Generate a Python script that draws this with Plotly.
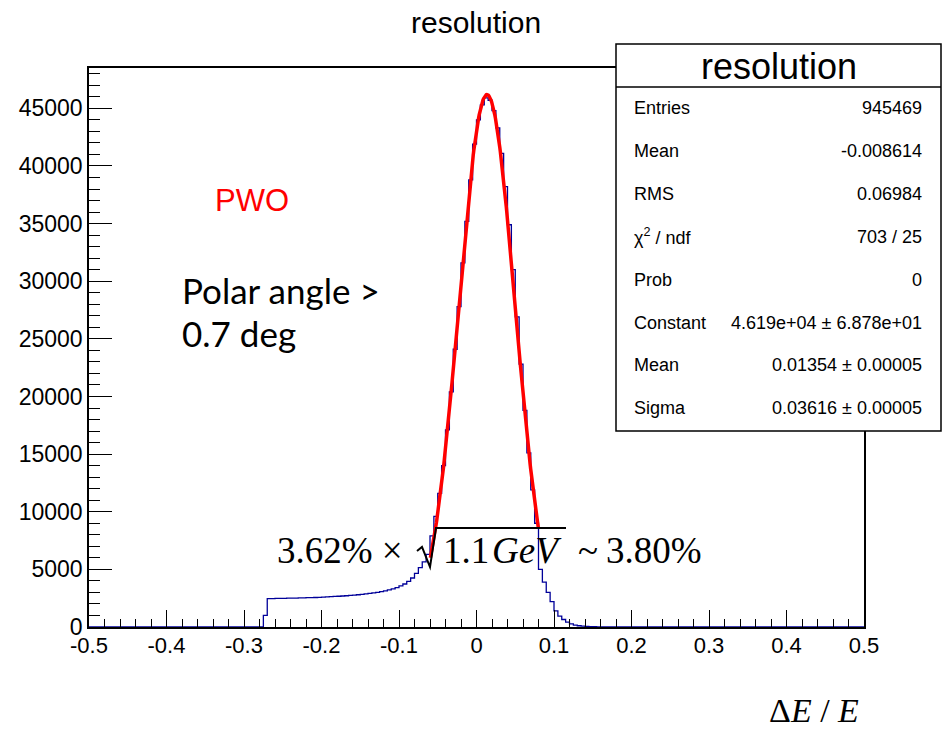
import math
import plotly.graph_objects as go

# ---------------- data ----------------
bin_width = 0.005
hist_lo, hist_hi = -0.5, 0.5
first_filled_bin = -0.275   # left edge of first non-empty bin
counts = [
    1000, 2470, 2470, 2480, 2480, 2490, 2500, 2500, 2510, 2520,      # -0.275 ...
    2530, 2540, 2550, 2560, 2570, 2590, 2610, 2630, 2650, 2670,      # -0.225 ...
    2690, 2710, 2740, 2770, 2800, 2830, 2870, 2910, 2960, 3010,      # -0.175 ...
    3070, 3140, 3220, 3310, 3420, 3560, 3730, 3950, 4250, 4650,      # -0.125 ...
    5150, 5650, 6300, 7900, 9600, 11600, 14000, 17100, 20400, 24100, # -0.075 ...
    27800, 31600, 35200, 38800, 41900, 44000, 45300, 45900, 45700, 44800,  # -0.025 ...
    43300, 41100, 38200, 34900, 31000, 26900, 22800, 18800, 15100, 11900,  # 0.025 ...
    9000, 5000, 3900, 3000, 2200, 1400, 950, 650, 430, 270,          # 0.075 ...
    170, 110, 70, 45, 30, 20, 14, 10, 7, 5,                          # 0.125 ...
    4, 3, 2, 2, 1,                                                   # 0.175 ...
]

# Gaussian fit (parameters from the stats box) and fit range
fit_constant = 4.619e4
fit_mean = 0.01354
fit_sigma = 0.03616
fit_range = (-0.0595, 0.0797)

x_tickvals = [-0.5, -0.4, -0.3, -0.2, -0.1, 0, 0.1, 0.2, 0.3, 0.4, 0.5]
x_ticktext = ["-0.5", "-0.4", "-0.3", "-0.2", "-0.1", "0", "0.1", "0.2", "0.3", "0.4", "0.5"]
y_tickvals = [0, 5000, 10000, 15000, 20000, 25000, 30000, 35000, 40000, 45000]
y_ticktext = [str(v) for v in y_tickvals]

stats_labels = ["Entries", "Mean", "RMS", "χ<sup>2</sup> / ndf", "Prob",
                "Constant", "Mean", "Sigma"]
stats_values = ["945469", "-0.008614", "0.06984", "703 / 25", "0",
                "4.619e+04 ± 6.878e+01", "0.01354 ± 0.00005", "0.03616 ± 0.00005"]

# ---------------- build step outline ----------------
n_bins = int(round((hist_hi - hist_lo) / bin_width))
start = int(round((first_filled_bin - hist_lo) / bin_width))
full = [0] * n_bins
for i, c in enumerate(counts):
    full[start + i] = c
edges = [hist_lo + i * bin_width for i in range(n_bins + 1)]
step_x = edges
step_y = full + [full[-1]]

n_fit = 200
fit_x = [fit_range[0] + (fit_range[1] - fit_range[0]) * i / (n_fit - 1) for i in range(n_fit)]
fit_y = [fit_constant * math.exp(-0.5 * ((x - fit_mean) / fit_sigma) ** 2) for x in fit_x]

# ---------------- figure ----------------
W, H = 951, 729
def PX(x):
    return x / W
def PY(y):
    return 1 - y / H

SANS = "Liberation Sans, Arial, Helvetica, sans-serif"
SERIF = "Liberation Serif, Times New Roman, serif"
MATH = 37

fig = go.Figure()
fig.add_trace(go.Scatter(x=step_x, y=step_y, mode="lines", line_shape="hv",
                         line=dict(color="#000099", width=1.3), hoverinfo="skip",
                         showlegend=False))
fig.add_trace(go.Scatter(x=fit_x, y=fit_y, mode="lines",
                         line=dict(color="#ff0000", width=3.5), hoverinfo="skip",
                         showlegend=False))

fig.update_layout(
    width=W, height=H,
    margin=dict(l=0, r=0, t=0, b=0, autoexpand=False),
    paper_bgcolor="white", plot_bgcolor="white",
    showlegend=False,
    xaxis=dict(
        domain=[89 / W, 864 / W], range=[-0.5, 0.5], automargin=False,
        showgrid=False, zeroline=False,
        showline=True, linecolor="black", linewidth=1.5, mirror=True,
        ticks="inside", ticklen=17, tickwidth=1.2, tickcolor="black",
        tickmode="array", tickvals=x_tickvals, ticktext=x_ticktext,
        tickfont=dict(family=SANS, size=22, color="black"),
        ticklabelstandoff=-2,
        minor=dict(tickmode="linear", tick0=-0.5, dtick=0.02, ticks="inside",
                   ticklen=8, tickwidth=1.2, tickcolor="black", showgrid=False),
    ),
    yaxis=dict(
        domain=[1 - 627 / H, 1 - 68 / H], range=[0, 48500], automargin=False,
        showgrid=False, zeroline=False,
        showline=True, linecolor="black", linewidth=1.5, mirror=True,
        ticks="inside", ticklen=23, tickwidth=1.2, tickcolor="black",
        tickmode="array", tickvals=y_tickvals, ticktext=y_ticktext,
        tickfont=dict(family=SANS, size=23, color="black"),
        minor=dict(tickmode="linear", tick0=0, dtick=1000, ticks="inside",
                   ticklen=11, tickwidth=1.2, tickcolor="black", showgrid=False),
    ),
)

ann = []
def text(t, x, y, size, anchor="left", family=SANS, color="black"):
    ann.append(dict(text=t, x=PX(x), y=PY(y), xref="paper", yref="paper",
                    showarrow=False, xanchor=anchor, yanchor="middle",
                    font=dict(family=family, size=size, color=color)))

# title
text("resolution", 476, 22, 30, "center")

# stats box
shapes = []
bx0, bx1, by0, by1 = 616, 941, 44, 431
shapes.append(dict(type="rect", xref="paper", yref="paper",
                   x0=PX(bx0), x1=PX(bx1), y0=PY(by1), y1=PY(by0),
                   line=dict(color="black", width=1.5), fillcolor="white", layer="above"))
shapes.append(dict(type="line", xref="paper", yref="paper",
                   x0=PX(bx0), x1=PX(bx1), y0=PY(87), y1=PY(87),
                   line=dict(color="black", width=1.5), layer="above"))
text("resolution", (bx0 + bx1) / 2, 66, 36, "center")
row_y = [108, 151, 194, 237, 280, 323, 365, 408]
for lab, val, ry in zip(stats_labels, stats_values, row_y):
    text(lab, 632, ry, 18, "left")
    text(val, 924, ry, 18, "right")

# PWO
text("PWO", 252, 201, 31, "center", color="#ff0000")
# Polar angle
text("Polar angle >", 180, 290, 35, "left", family="Lato, Carlito, sans-serif")
text("0.7 deg", 180, 333, 35, "left", family="Lato, Carlito, sans-serif")
# resolution formula
text("3.62% ×", 275, 550, MATH, "left", family=SERIF)
text("1.1", 441, 550, MATH, "left", family=SERIF)
text("<i>GeV</i>", 490, 550, MATH, "left", family=SERIF)
text("~", 576, 550, MATH, "left", family=SERIF)
text("3.80%", 604, 550, MATH, "left", family=SERIF)
# radical sign with overbar
rad = "M {:.5f},{:.5f} L {:.5f},{:.5f} L {:.5f},{:.5f} L {:.5f},{:.5f} L {:.5f},{:.5f}".format(
    PX(417), PY(551), PX(422), PY(547), PX(430), PY(567), PX(436), PY(528), PX(566), PY(528))
shapes.append(dict(type="path", xref="paper", yref="paper", path=rad,
                   line=dict(color="black", width=2), layer="above"))
# axis title
text("Δ<i>E</i> / <i>E</i>", 814, 710, 34, "center", family=SERIF)

fig.update_layout(annotations=ann, shapes=shapes)
fig.write_html("out.html", config={"displayModeBar": False},
               post_script="document.body.style.margin='0';document.body.style.overflow='hidden';")
